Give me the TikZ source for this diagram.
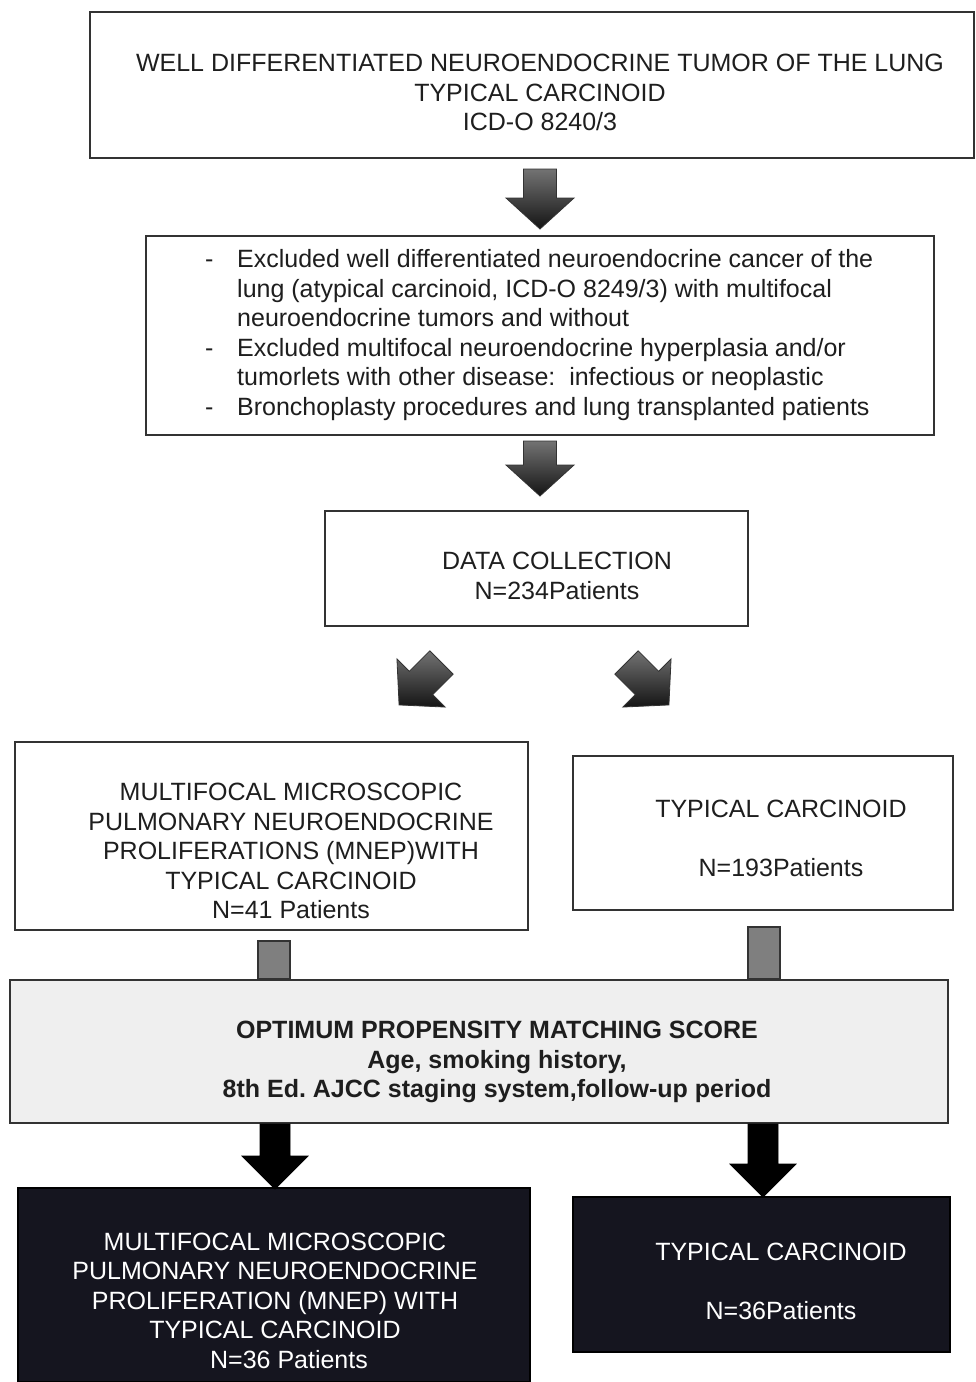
\documentclass[tikz,border=0pt]{standalone}
\usepackage{fontspec}
\setmainfont{Liberation Sans}
\usetikzlibrary{calc}
\frenchspacing
\definecolor{boxline}{HTML}{333333}
\definecolor{navy}{HTML}{15151F}
\definecolor{optfill}{HTML}{EFEFEF}
\definecolor{connfill}{HTML}{7F7F7F}
\definecolor{txtcol}{HTML}{1E1E1E}
\begin{document}
\begin{tikzpicture}[x=1pt,y=1pt,
  box/.style={draw=boxline, line width=2pt, fill=white, inner sep=0pt},
  optbox/.style={draw=boxline, line width=2pt, fill=optfill, inner sep=0pt},
  darkbox/.style={draw=black, line width=1.5pt, fill=navy, inner sep=0pt},
  txt/.style={inner sep=0pt, align=center, text=txtcol, font=\fontsize{25}{29.5}\selectfont},
  wtxt/.style={txt, text=white},
  btxt/.style={txt, font=\fontsize{25}{29.5}\selectfont\bfseries},
  connrect/.style={draw=boxline, line width=1.5pt, fill=connfill},
  gbarrow/.pic={\path[draw=black!80, line width=0.8pt, top color=black!55, bottom color=black!92]
     (0,-16.5) -- ({#1-31},-16.5) -- ({#1-31},-34) -- (#1,0) -- ({#1-31},34) -- ({#1-31},16.5) -- (0,16.5) -- cycle;},
  kbarrow/.pic={\path[draw=black, line width=0.8pt, fill=black]
     (0,-15) -- ({#1-33},-15) -- ({#1-33},-33) -- (#1,0) -- ({#1-33},33) -- ({#1-33},15) -- (0,15) -- cycle;}
]
\useasboundingbox (0,0) rectangle (976,-1382);
\fill[white] (0,0) rectangle (976,-1382);

% boxes
\node[box, minimum width=884pt, minimum height=146pt] (top) at (532,-85) {};
\node[box, minimum width=788pt, minimum height=199pt] (excl) at (540,-335.5) {};
\node[box, minimum width=423pt, minimum height=115pt] (data) at (536.5,-568.5) {};
\node[box, minimum width=513pt, minimum height=188pt] (mnep) at (271.5,-836) {};
\node[box, minimum width=380pt, minimum height=154pt] (tc) at (763,-833) {};
\node[optbox, minimum width=938pt, minimum height=143pt] (opt) at (479,-1051.5) {};
\node[darkbox, minimum width=512pt, minimum height=194pt] (mnepM) at (274,-1285) {};
\node[darkbox, minimum width=377pt, minimum height=155pt] (tcM) at (761.5,-1274.5) {};

% texts
\node[txt] (topT) at (540,-92.5) {WELL DIFFERENTIATED NEUROENDOCRINE TUMOR OF THE LUNG\\TYPICAL CARCINOID\\ICD-O 8240/3};
\node[txt, align=left, anchor=west] (exclT) at (205,-335) {%
\makebox[32pt][l]{-}Excluded well differentiated neuroendocrine cancer of the\\
\hspace*{32pt}lung (atypical carcinoid, ICD-O 8249/3) with multifocal\\
\hspace*{32pt}neuroendocrine tumors and without\\
\makebox[32pt][l]{-}Excluded multifocal neuroendocrine hyperplasia and/or\\
\hspace*{32pt}tumorlets with other disease:\ \ infectious or neoplastic\\
\makebox[32pt][l]{-}Bronchoplasty procedures and lung transplanted patients};
\node[txt] (dataT) at (557,-576) {DATA COLLECTION\\N=234Patients};
\node[txt] (mnepT) at (291,-851) {MULTIFOCAL MICROSCOPIC\\PULMONARY NEUROENDOCRINE\\PROLIFERATIONS (MNEP)WITH\\TYPICAL CARCINOID\\N=41 Patients};
\node[txt] (tcT) at (781,-838) {TYPICAL CARCINOID\\[29.5pt]N=193Patients};
\node[btxt] (optT) at (497,-1062) {OPTIMUM PROPENSITY MATCHING SCORE\\Age, smoking history,\\8th Ed. AJCC staging system,follow-up period};
\node[wtxt] (mnepMT) at (275,-1300.5) {MULTIFOCAL MICROSCOPIC\\PULMONARY NEUROENDOCRINE\\PROLIFERATION (MNEP) WITH\\TYPICAL CARCINOID\\\hspace*{28pt}N=36 Patients};
\node[wtxt] (tcMT) at (781,-1281) {TYPICAL CARCINOID\\[29.5pt]N=36Patients};

% connectors
\pic[rotate=-90] at ($(excl.north |- top.south)+(0,-10)$) {gbarrow=60};
\pic[rotate=-90] at ($(excl.south)+(0,-5)$) {gbarrow=55};
\pic[rotate=-135] at ($(data.south)+(-95,-35.5)$) {gbarrow=60};
\pic[rotate=-45] at ($(data.south)+(90,-35.5)$) {gbarrow=60};
\draw[connrect] ($(mnep.south)+(-13.5,-10)$) rectangle ($(mnep.south |- opt.north)+(18.5,0)$);
\draw[connrect] ($(tc.south)+(-15,-16)$) rectangle ($(tc.south |- opt.north)+(17,0)$);
\pic[rotate=-90] at ($(mnepM.north |- opt.south)+(1,0)$) {kbarrow=65};
\pic[rotate=-90] at ($(tcM.north |- opt.south)+(1.5,0)$) {kbarrow=73};
\end{tikzpicture}
\end{document}
